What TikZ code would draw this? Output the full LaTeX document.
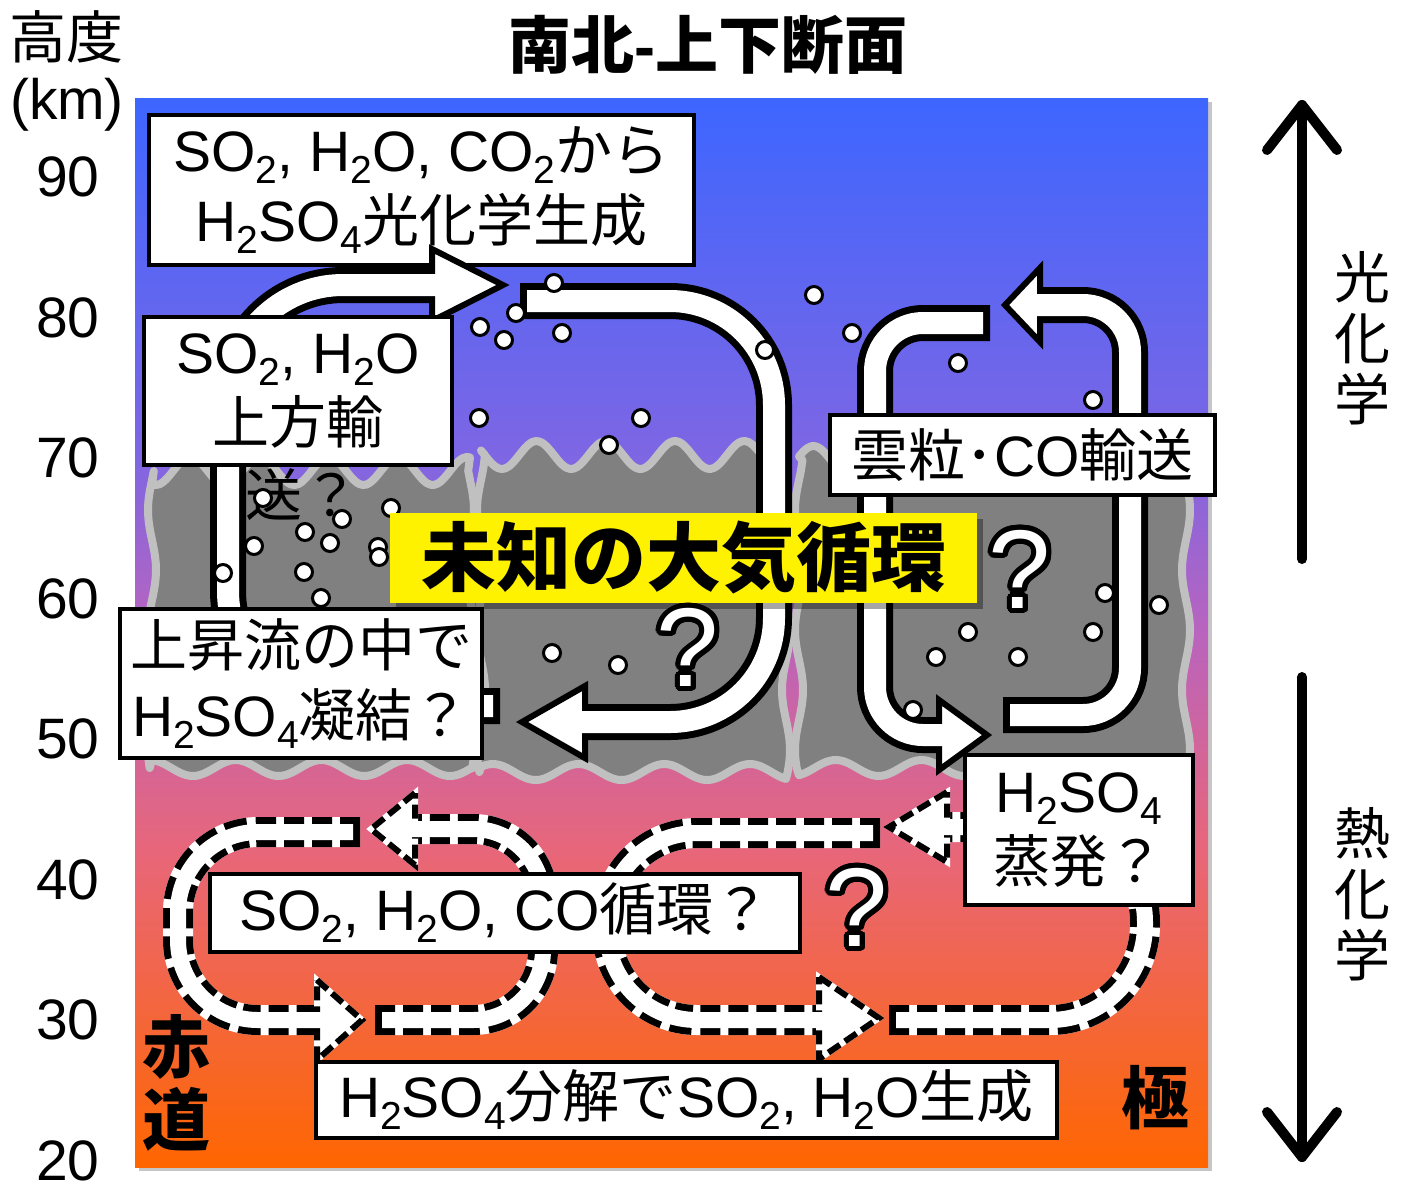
\documentclass[tikz,border=0pt]{standalone}
\usepackage{fontspec}
\setmainfont{Liberation Sans}
\newfontfamily\jp{Noto Sans CJK JP}
\usepackage{contour}
\contourlength{2.5pt}
\contournumber{32}
\usetikzlibrary{shadows}

\definecolor{skyA}{RGB}{61,102,255}
\definecolor{skyB}{RGB}{125,102,228}
\definecolor{skyC}{RGB}{185,100,190}
\definecolor{skyD}{RGB}{232,102,122}
\definecolor{skyE}{RGB}{255,102,0}
\definecolor{cloudgray}{RGB}{128,128,128}
\definecolor{cloudedge}{RGB}{192,192,192}

% sky colours from the upper atmosphere down to 20 km
\pgfdeclareverticalshading{sky}{100bp}{color(0bp)=(skyE); color(25bp)=(skyE);
  color(39.8bp)=(skyD); color(50bp)=(skyC); color(58.5bp)=(skyB);
  color(75bp)=(skyA); color(100bp)=(skyA)}

\newcommand\boxfont{\fontsize{28.5}{35}\selectfont}
\newcommand\bannerfont{\fontsize{37.5}{42}\selectfont\bfseries\jp}
% chemical subscripts, set low like the slides do
\newcommand\sub[1]{\raisebox{-6pt}{\fontsize{19.5}{20}\selectfont #1}}

% cloud deck with wavy edges: x1, x2, top, bottom
\newcommand\cloud[4]{%
  \filldraw[cloud] plot[smooth, domain=#1:#2, samples=90] (\x, {#3+14*sin(5.2*\x)})
    -- plot[smooth, domain=#3:#4, samples=30] ({#2+4*sin(3*\x)}, \x)
    -- plot[smooth, domain=#2:#1, samples=70] (\x, {#4+8*sin(4.2*\x)})
    -- plot[smooth, domain=#4:#3, samples=30] ({#1-4*sin(3*\x)}, \x)
    -- cycle;}

% thick white arrow: corner radius, shaft, head
\newcommand\pipearrow[3]{%
  \draw[pipe edge, rounded corners=#1] #2;
  \filldraw[pipe head] #3 -- cycle;
  \draw[pipe core, rounded corners=#1] #2;}

% same with a dashed rim
\newcommand\dasharrow[3]{%
  \draw[dash edge, rounded corners=#1] #2;
  \filldraw[dash head] #3 -- cycle;
  \draw[dash core, rounded corners=#1] #2;}

\begin{document}
\begin{tikzpicture}[x=0.5pt, y=-0.5pt,
  cloud/.style      = {fill=cloudgray, draw=cloudedge, line width=4pt, line join=round},
  label box/.style  = {draw, line width=1.6pt, fill=white, inner sep=0pt, align=center, font=\boxfont},
  banner/.style     = {fill=yellow, inner sep=0pt, font=\bannerfont,
                       drop shadow={shadow xshift=3pt, shadow yshift=-3pt, fill=black, opacity=.35}},
  pipe edge/.style  = {draw=black, line width=18pt, line cap=butt},
  pipe core/.style  = {draw=white, line width=11pt, line cap=butt, shorten <=3.5pt},
  pipe head/.style  = {fill=white, draw=black, line width=3pt, line join=miter},
  dash edge/.style  = {draw=black, line width=15pt, line cap=butt, dash pattern=on 10pt off 4pt,
                       preaction={draw=white, solid, line width=15pt, line cap=butt}},
  dash core/.style  = {draw=white, line width=8pt, line cap=butt, shorten <=3.5pt},
  dash head/.style  = {fill=white, draw=black, line width=3pt, dash pattern=on 7pt off 3pt,
                       preaction={fill=white, draw=white, solid, line width=3pt}},
  drop/.style       = {fill=white, draw=black, line width=1.5pt},
  query/.style      = {text=white, inner sep=0pt, font=\fontsize{56}{60}\selectfont},
  axis text/.style  = {inner sep=0pt, font=\fontsize{28.5}{34}\selectfont},
  side text/.style  = {inner sep=0pt, align=center, font=\fontsize{28}{30.5}\selectfont\jp},
  place text/.style = {inner sep=0pt, align=center, font=\fontsize{34}{36.5}\selectfont\bfseries\jp},
  axis line/.style  = {line width=5pt, line cap=round, line join=round}]

\useasboundingbox (0,0) rectangle (1402,1185);

% atmosphere panel
\fill[gray!45] (139,102) rectangle (1212,1171);
\shade[shading=sky] (135,98) rectangle (1208,1167);

% clouds
\cloud{152}{470}{471}{768}
\cloud{481}{786}{455}{772}
\cloud{799}{1186}{460}{768}

% box under the upward arrow head
\node[label box, minimum width=272.5pt, minimum height=75pt] (photochem) at (421.5,190)
  {SO\sub2, H\sub2O, CO\sub2{\jp から}\\H\sub2SO\sub4{\jp 光化学生成}};
\node[inner sep=0pt, font={\boxfont\jp}] (uptail) at (302,495) {送？};

% big white arrows of the cloud layer
\pipearrow{57.5pt}{(500,706) -- (228,706) -- (228,285) -- (440,285)}{(432,249) -- (503,285) -- (432,321)}
\pipearrow{52pt}{(520,301) -- (774,301) -- (774,722) -- (578,722)}{(585,686) -- (522,722) -- (585,758)}
\pipearrow{24pt}{(990,323) -- (875,323) -- (875,735) -- (946,735)}{(939,700) -- (987,735) -- (939,770)}
\pipearrow{23.5pt}{(1003,715) -- (1130,715) -- (1130,305) -- (1033,305)}{(1040,268) -- (1005,305) -- (1040,342)}

% dashed loops below the clouds
\dasharrow{40pt}{(360,832) -- (178,832) -- (178,1020) -- (324,1020)}{(317,980) -- (362,1020) -- (317,1060)}
\dasharrow{35pt}{(375,1020) -- (543,1020) -- (543,829) -- (408,829)}{(415,793) -- (371,829) -- (415,865)}
\dasharrow{45pt}{(880,833) -- (607,833) -- (607,1020) -- (826,1020)}{(819,977) -- (879,1018) -- (819,1059)}
\dasharrow{47.5pt}{(889,1020) -- (1145,1020) -- (1145,827) -- (940,827)}{(947,792) -- (889,827) -- (947,862)}

% cloud particles
\foreach \p in {(554,283),(516,313),(480,327),(504,340),(562,333),(814,295),(852,333),
                (765,350),(958,363),(1093,400),(479,418),(641,418),(609,445),(263,498),
                (391,508),(342,519),(305,532),(330,543),(254,546),(378,547),(379,557),
                (223,573),(304,572),(321,598),(552,653),(618,665),(1105,593),(1159,605),
                (968,632),(1093,632),(936,657),(1018,657),(913,710)}
  \draw[drop] \p circle (4.25pt);

% text boxes
\node[label box, minimum width=154pt, minimum height=74pt] (uplift) at (298,391)
  {SO\sub2, H\sub2O\\{\jp 上方輸}};
\node[label box, minimum width=181pt, minimum height=74.5pt] (condense) at (301,683.5)
  {{\jp 上昇流の中で}\\H\sub2SO\sub4{\jp 凝結？}};
\node[label box, minimum width=192.5pt, minimum height=40pt] (cotrans) at (1022.5,455)
  {{\jp 雲粒･}CO{\jp 輸送}};
\node[label box, minimum width=114pt, minimum height=75pt] (evap) at (1079,830)
  {H\sub2SO\sub4\\{\jp 蒸発？}};
\node[label box, minimum width=295pt, minimum height=39pt] (cycle) at (505,913)
  {SO\sub2, H\sub2O, CO{\jp 循環？}};
\node[label box, minimum width=370.5pt, minimum height=38pt] (decomp) at (686.5,1100)
  {H\sub2SO\sub4{\jp 分解で}SO\sub2, H\sub2O{\jp 生成}};
\node[banner, minimum width=293.5pt, minimum height=45pt] (unknown) at (683.5,558) {未知の大気循環};

% question marks
\node[query] (q1) at (1020,572) {\contour{black}{?}};
\node[query] (q2) at (688,650) {\contour{black}{?}};
\node[query] (q3) at (857,910) {\contour{black}{?}};

% altitude scale
\node[axis text] (altitude) at (67,37) {\jp 高度};
\node[axis text] (unit) at (67,105) {(km)};
\foreach \h [count=\i from 0] in {90,80,...,20}
  \node[axis text] (tick\h) at (68, {177+140.5*\i}) {\h};

% title
\node[inner sep=0pt, font=\fontsize{31.5}{36}\selectfont\bfseries] (title) at (708,45)
  {{\jp 南北}-{\jp 上下断面}};

% photochemistry / thermochemistry ranges
\draw[axis line] (1302,559) -- (1302,105);
\draw[axis line] (1267,150) -- (1302,105) -- (1337,150);
\draw[axis line] (1302,677) -- (1302,1157);
\draw[axis line] (1267,1112) -- (1302,1157) -- (1337,1112);
\node[side text] (photo) at (1362,338) {光\\化\\学};
\node[side text] (thermo) at (1362,894) {熱\\化\\学};

% latitude ends
\node[place text] (equator) at (176,1083) {赤\\道};
\node[place text] (pole) at (1155,1098) {極};
\end{tikzpicture}
\end{document}
